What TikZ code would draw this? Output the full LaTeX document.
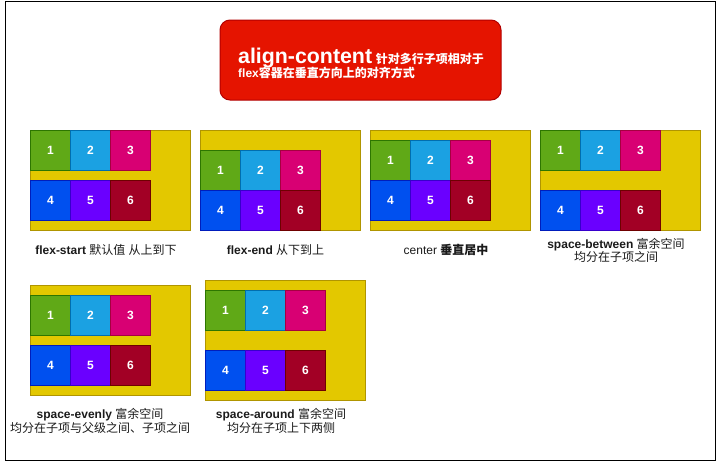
\documentclass[tikz,border=0pt]{standalone}
\usepackage{fontspec}
\setmainfont{Liberation Sans}
\newfontfamily\cjk{Noto Sans CJK SC}
\definecolor{goldfill}{HTML}{E3C800}
\definecolor{goldline}{HTML}{B09500}
\definecolor{redfill}{HTML}{E51400}
\definecolor{redline}{HTML}{B20000}
\definecolor{cgreen}{HTML}{60A917}\definecolor{cgreenl}{HTML}{2D7600}
\definecolor{cblue}{HTML}{1BA1E2}\definecolor{cbluel}{HTML}{006EAF}
\definecolor{cpink}{HTML}{D80073}\definecolor{cpinkl}{HTML}{A50040}
\definecolor{ccobalt}{HTML}{0050EF}\definecolor{ccobaltl}{HTML}{001DBC}
\definecolor{cviolet}{HTML}{6A00FF}\definecolor{cviolell}{HTML}{3700CC}
\definecolor{ccrimson}{HTML}{A20025}\definecolor{ccrimsonl}{HTML}{6F0000}
\definecolor{labeltext}{HTML}{1A1A1A}
\newcommand{\sixcells}[4]{%
  \node[cell,fill=cgreen,draw=cgreenl]   (#1-1) at (#2,#3) {1};
  \node[cell,fill=cblue,draw=cbluel]     (#1-2) at (#2+40,#3) {2};
  \node[cell,fill=cpink,draw=cpinkl]     (#1-3) at (#2+80,#3) {3};
  \node[cell,fill=ccobalt,draw=ccobaltl] (#1-4) at (#2,#4) {4};
  \node[cell,fill=cviolet,draw=cviolell] (#1-5) at (#2+40,#4) {5};
  \node[cell,fill=ccrimson,draw=ccrimsonl] (#1-6) at (#2+80,#4) {6};
}
\begin{document}
\begin{tikzpicture}[x=0.75pt,y=-0.75pt,
  container/.style={draw=goldline,fill=goldfill,line width=0.75pt,inner sep=0pt,
    anchor=north west,minimum width=120pt},
  cell/.style={line width=0.75pt,inner sep=0pt,anchor=north west,
    minimum width=30pt,minimum height=30pt,text=white,
    font=\bfseries\fontsize{9}{10}\selectfont},
  caption/.style={align=center,inner sep=0pt,text=labeltext,
    font=\fontsize{9}{10.3}\selectfont},
  titlebox/.style={draw=redline,fill=redfill,line width=0.75pt,rounded corners=7.5pt,
    minimum width=210.75pt,minimum height=60pt,inner sep=0pt},
  titletext/.style={text=white,align=left,inner sep=0pt}]
\useasboundingbox (0,0) rectangle (716,461);
\draw[line width=0.75pt] (5,1) rectangle (715,460);

\node[titlebox] (title) at (360.5,60) {};
\node[titletext] (titletxt) at (361,63) {%
  {\bfseries\fontsize{16}{18}\selectfont align-content} {\bfseries\fontsize{9}{10}\selectfont\cjk 针对多行子项相对于}\\[-1.5pt]
  {\bfseries\fontsize{9}{10}\selectfont flex\cjk 容器在垂直方向上的对齐方式}};

% flex-start
\node[container,minimum height=75pt] (c1) at (30,130) {};
\sixcells{a}{30}{130}{180}
\node[caption] (l1) at (106,250) {\textbf{flex-start} {\cjk 默认值} {\cjk 从上到下}};

% flex-end
\node[container,minimum height=75pt] (c2) at (200,130) {};
\sixcells{b}{200}{150}{190}
\node[caption] (l2) at (275.5,250) {\textbf{flex-end} {\cjk 从下到上}};

% center
\node[container,minimum height=75pt] (c3) at (370,130) {};
\sixcells{c}{370}{140}{180}
\node[caption] (l3) at (446,250) {center {\bfseries\cjk 垂直居中}};

% space-between
\node[container,minimum height=75pt] (c4) at (540,130) {};
\sixcells{d}{540}{130}{190}
\node[caption] (l4) at (616,250.5) {\textbf{space-between} {\cjk 富余空间}\\{\cjk 均分在子项之间}};

% space-evenly
\node[container,minimum height=82.5pt] (c5) at (30,285) {};
\sixcells{e}{30}{295}{345}
\node[caption] (l5) at (100,421) {\textbf{space-evenly} {\cjk 富余空间}\\{\cjk 均分在子项与父级之间、子项之间}};

% space-around
\node[container,minimum height=90pt] (c6) at (205,280) {};
\sixcells{f}{205}{290}{350}
\node[caption] (l6) at (281,420.7) {\textbf{space-around} {\cjk 富余空间}\\{\cjk 均分在子项上下两侧}};
\end{tikzpicture}
\end{document}
